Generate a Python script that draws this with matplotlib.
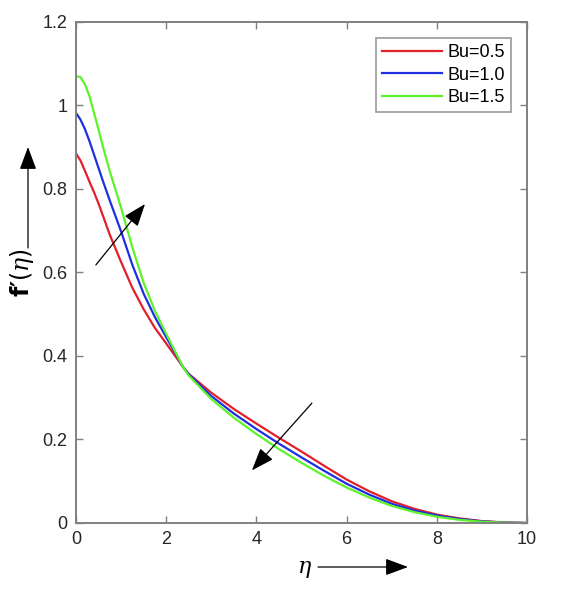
import matplotlib
matplotlib.use("Agg")
from matplotlib import pyplot as plt

plt.rcParams['font.family'] = ['Liberation Sans', 'DejaVu Sans']
plt.rcParams['mathtext.fontset'] = 'custom'
plt.rcParams['mathtext.rm'] = 'DejaVu Sans'
plt.rcParams['mathtext.bf'] = 'DejaVu Sans:bold'
plt.rcParams['mathtext.it'] = 'DejaVu Serif:italic'

# values
eta = [0, 0.1, 0.2, 0.3, 0.4, 0.5, 0.6, 0.75, 1.0, 1.25, 1.5, 1.75, 2.0, 2.37, 2.5,
       3.0, 3.5, 4.0, 4.5, 5.0, 5.5, 6.0, 6.5, 7.0, 7.5, 8.0, 8.5, 9.0, 9.5, 10.0]
f_bu05 = [0.885, 0.868, 0.843, 0.817, 0.792, 0.765, 0.735, 0.69, 0.625, 0.563, 0.512,
          0.467, 0.43, 0.374, 0.357, 0.312, 0.273, 0.238, 0.204, 0.171, 0.137, 0.104,
          0.076, 0.052, 0.034, 0.02, 0.011, 0.0045, 0.0012, 0.0]
f_bu10 = [0.982, 0.966, 0.943, 0.914, 0.882, 0.85, 0.818, 0.772, 0.698, 0.618, 0.549,
          0.493, 0.445, 0.374, 0.356, 0.304, 0.262, 0.225, 0.19, 0.157, 0.125, 0.094,
          0.068, 0.046, 0.03, 0.018, 0.0095, 0.004, 0.001, 0.0]
f_bu15 = [1.07, 1.068, 1.05, 1.022, 0.982, 0.942, 0.9, 0.842, 0.755, 0.66, 0.575,
          0.508, 0.453, 0.374, 0.353, 0.297, 0.252, 0.213, 0.177, 0.144, 0.113, 0.085,
          0.061, 0.041, 0.026, 0.015, 0.0075, 0.003, 0.0008, 0.0]
labels = ['Bu=0.5', 'Bu=1.0', 'Bu=1.5']
colors = ['#e3202a', '#1f2fe0', '#5ef22a']

fig = plt.figure(figsize=(5.82, 5.91), dpi=100)
ax = fig.add_axes([0.1306, 0.1151, 0.775, 0.8477])

for ys, lab, c in zip([f_bu05, f_bu10, f_bu15], labels, colors):
    ax.plot(eta, ys, color=c, lw=1.6, label=lab)

ax.set_xlim(0, 10)
ax.set_ylim(0, 1.2)
ax.set_xticks([0, 2, 4, 6, 8, 10])
ax.set_yticks([0, 0.2, 0.4, 0.6, 0.8, 1.0, 1.2])
ax.set_yticklabels(['0', '0.2', '0.4', '0.6', '0.8', '1', '1.2'])
ax.tick_params(direction='in', length=5, width=1, top=True, right=True,
               labelsize=13, colors='#808080', labelcolor='#262626', pad=6)
for s in ax.spines.values():
    s.set_color('#808080')
    s.set_linewidth(1.4)

leg = ax.legend(loc='upper right', bbox_to_anchor=(0.9645, 0.968), borderaxespad=0,
                fontsize=13, fancybox=False, handlelength=3.3, labelspacing=0.3,
                borderpad=0.35, handletextpad=0.3)
leg.get_frame().set_edgecolor('#808080')
leg.get_frame().set_linewidth(1.2)

head = '-|>,head_length=0.7,head_width=0.26'
arrow_kw = dict(arrowstyle=head, color='black', lw=0.9, mutation_scale=20,
                shrinkA=0, shrinkB=0)

# arrows showing the trend with Bu
ax.annotate('', xy=(1.53, 0.764), xytext=(0.44, 0.618), arrowprops=arrow_kw)
ax.annotate('', xy=(3.90, 0.126), xytext=(5.23, 0.287), arrowprops=arrow_kw)

# axis labels with arrows
fig.text(22 / 582, 1 - 273 / 591, "$\\mathbf{f\u2032}(\\eta)$", rotation=90,
         fontsize=17, ha='center', va='center')
ax.annotate('', xy=(28, 591 - 147), xytext=(28, 591 - 248), xycoords='figure pixels',
            textcoords='figure pixels', annotation_clip=False, arrowprops=arrow_kw)
fig.text(305 / 582, 1 - 569 / 591, r"$\eta$", fontsize=16, ha='center', va='center')
ax.annotate('', xy=(408, 591 - 567), xytext=(318, 591 - 567), xycoords='figure pixels',
            textcoords='figure pixels', annotation_clip=False, arrowprops=arrow_kw)

fig.savefig('out.png', dpi=100)
